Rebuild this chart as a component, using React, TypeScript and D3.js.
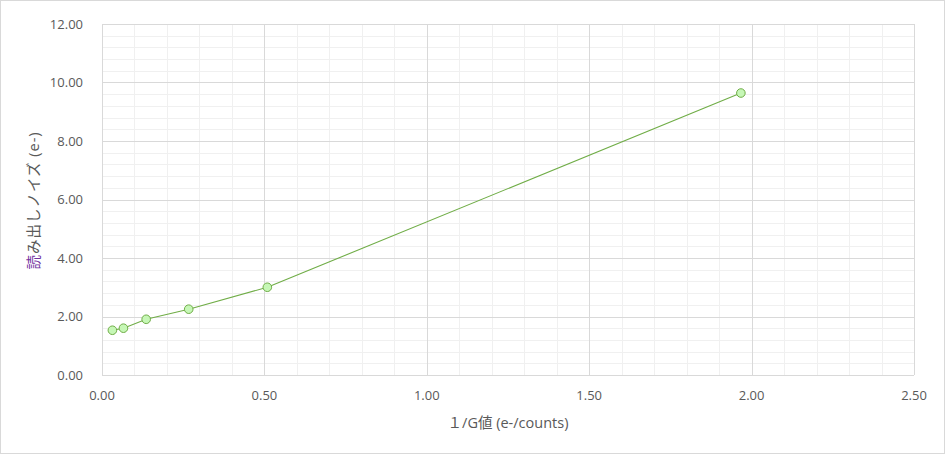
import React, { useEffect, useRef } from 'react';
import * as d3 from 'd3';

const W = 945;
const H = 454;
const MARGIN = { top: 24, right: 31, bottom: 79, left: 102 };

// 1/G値 と 読み出しノイズ
const invGain = [0.032, 0.066, 0.136, 0.267, 0.509, 1.967];
const readNoise = [1.53, 1.6, 1.905, 2.25, 3.0, 9.64];
const xTicks = [0, 0.5, 1.0, 1.5, 2.0, 2.5];
const yTicks = [0, 2, 4, 6, 8, 10, 12];

const FONT = '"Open Sans", "Noto Sans CJK JP", sans-serif';

const App: React.FC = () => {
    const svgRef = useRef<SVGSVGElement>(null);

    useEffect(() => {
        document.body.style.margin = '0';
        if (!svgRef.current) return;
        const svg = d3.select(svgRef.current);
        svg.selectAll('*').remove();

        const width = W - MARGIN.left - MARGIN.right;
        const height = H - MARGIN.top - MARGIN.bottom;

        svg.append('rect')
            .attr('x', 0.5).attr('y', 0.5)
            .attr('width', W - 1).attr('height', H - 1)
            .attr('fill', 'white').attr('stroke', '#d9d9d9');

        const g = svg.append('g').attr('transform', `translate(${MARGIN.left},${MARGIN.top})`);

        const x = d3.scaleLinear().domain([0, 2.5]).range([0, width]);
        const y = d3.scaleLinear().domain([0, 12]).range([height, 0]);

        // 補助目盛線
        const xMinor = d3.range(0, 2.5001, 0.1);
        const yMinor = d3.range(0, 12.001, 0.4);
        g.selectAll('line.xminor').data(xMinor).enter().append('line')
            .attr('x1', d => Math.round(x(d)) + 0.5).attr('x2', d => Math.round(x(d)) + 0.5)
            .attr('y1', 0).attr('y2', height)
            .attr('stroke', '#f0f0f0');
        g.selectAll('line.yminor').data(yMinor).enter().append('line')
            .attr('y1', d => Math.round(y(d)) + 0.5).attr('y2', d => Math.round(y(d)) + 0.5)
            .attr('x1', 0).attr('x2', width)
            .attr('stroke', '#f0f0f0');

        // 主目盛線
        g.selectAll('line.xmajor').data(xTicks).enter().append('line')
            .attr('x1', d => Math.round(x(d)) + 0.5).attr('x2', d => Math.round(x(d)) + 0.5)
            .attr('y1', 0).attr('y2', height)
            .attr('stroke', '#d9d9d9');
        g.selectAll('line.ymajor').data(yTicks).enter().append('line')
            .attr('y1', d => Math.round(y(d)) + 0.5).attr('y2', d => Math.round(y(d)) + 0.5)
            .attr('x1', 0).attr('x2', width)
            .attr('stroke', '#d9d9d9');

        // 目盛ラベル
        g.selectAll('text.xt').data(xTicks).enter().append('text')
            .attr('x', d => x(d)).attr('y', height + 25)
            .attr('text-anchor', 'middle')
            .text(d => d.toFixed(2))
            .style('font-family', FONT).style('font-size', '13px').style('fill', '#595959');
        g.selectAll('text.yt').data(yTicks).enter().append('text')
            .attr('x', -19).attr('y', d => y(d)).attr('dy', '0.35em')
            .attr('text-anchor', 'end')
            .text(d => d.toFixed(2))
            .style('font-family', FONT).style('font-size', '13px').style('fill', '#595959');

        // 軸タイトル
        svg.append('text')
            .attr('x', MARGIN.left + width / 2).attr('y', 428)
            .attr('text-anchor', 'middle')
            .text('１/G値 (e-/counts)')
            .style('font-family', FONT).style('font-size', '14.5px').style('fill', '#595959');

        const yl = svg.append('text')
            .attr('transform', `translate(39,${MARGIN.top + height / 2 + 1}) rotate(-90)`)
            .attr('text-anchor', 'middle')
            .style('font-family', FONT).style('font-size', '14.5px')
            .style('letter-spacing', '1px').style('fill', '#595959');
        yl.append('tspan').text('読').style('fill', '#7030a0');
        yl.append('tspan').text('み出しノイズ (e-)');

        const pts = invGain.map((v, i) => ({ x: v, y: readNoise[i] }));
        const line = d3.line<{ x: number; y: number }>().x(d => x(d.x)).y(d => y(d.y));
        g.append('path').datum(pts)
            .attr('d', line)
            .attr('fill', 'none')
            .attr('stroke', '#70ad47')
            .attr('stroke-width', 1.1);

        g.selectAll('circle').data(pts).enter().append('circle')
            .attr('cx', d => x(d.x)).attr('cy', d => y(d.y))
            .attr('r', 4.3)
            .attr('fill', '#c6f7b6')
            .attr('stroke', '#70ad47')
            .attr('stroke-width', 1);
    }, []);

    return <svg ref={svgRef} width={W} height={H} style={{ display: 'block' }} />;
};

export default App;
